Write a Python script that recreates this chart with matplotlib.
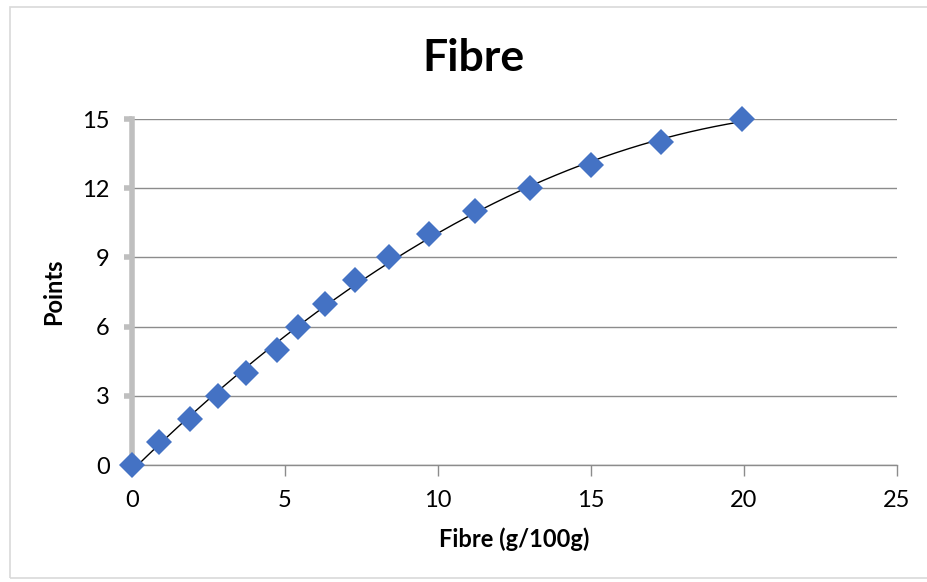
import numpy as np
import matplotlib.pyplot as plt
from matplotlib.patches import Rectangle

plt.rcParams['font.family'] = ['Lato', 'DejaVu Sans']

# data
fibre = [0, 0.88, 1.9, 2.81, 3.73, 4.74, 5.42, 6.31, 7.29, 8.4, 9.7, 11.2, 13.0, 15.0, 17.3, 19.95]
points = [0, 1, 2, 3, 4, 5, 6, 7, 8, 9, 10, 11, 12, 13, 14, 15]
xticks = [0, 5, 10, 15, 20, 25]
yticks = [0, 3, 6, 9, 12, 15]

fig = plt.figure(figsize=(9.28, 5.82), dpi=100)
fig.patches.append(Rectangle((10/928, 4/582), 1.0, 1 - 11/582, transform=fig.transFigure,
                             fill=False, edgecolor='#D9D9D9', linewidth=1.2))
ax = fig.add_axes([132/928, 1 - 465/582, (897 - 132)/928, (465 - 119)/582])

# polynomial trendline
coef = np.polyfit(fibre, points, 2)
xx = np.linspace(0, max(fibre), 200)
ax.plot(xx, np.polyval(coef, xx), color='black', linewidth=1, zorder=3)

ax.plot(fibre, points, linestyle='none', marker='D', markersize=13,
        color='#4472C4', markeredgewidth=0, zorder=4, clip_on=False)

ax.set_xlim(0, 25)
ax.set_ylim(0, 15)
ax.set_xticks(xticks)
ax.set_yticks(yticks)
ax.grid(axis='y', color='#8C8C8C', linewidth=1)
ax.set_axisbelow(True)

for s in ['top', 'right']:
    ax.spines[s].set_visible(False)
ax.spines['left'].set_color('#BFBFBF')
ax.spines['left'].set_linewidth(4)
ax.spines['bottom'].set_color('#8C8C8C')
ax.spines['bottom'].set_linewidth(1)
ax.tick_params(axis='y', length=6, width=4, color='#BFBFBF', labelsize=17, pad=10)
ax.tick_params(axis='x', length=8, width=1, color='#8C8C8C', labelsize=17, pad=10)

fig.text(473/928, 1 - 58/582, 'Fibre', fontsize=32, fontweight='bold',
         ha='center', va='center')
ax.set_xlabel('Fibre (g/100g)', fontsize=17, fontweight='bold', labelpad=12)
ax.set_ylabel('Points', fontsize=17, fontweight='bold', labelpad=12)

fig.savefig('out.png', dpi=100)
